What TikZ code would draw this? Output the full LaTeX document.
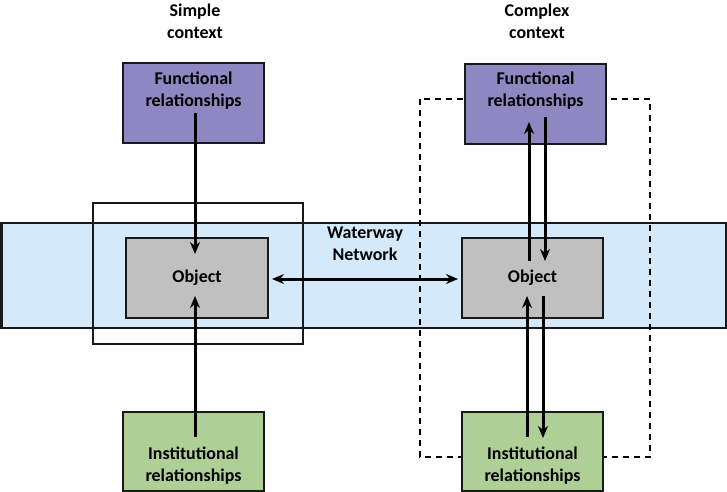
\documentclass[tikz,border=0pt]{standalone}
\usepackage{fontspec}
\setmainfont{Carlito}
\usetikzlibrary{arrows.meta}
\definecolor{funcfill}{RGB}{142,135,194}
\definecolor{instfill}{RGB}{174,207,150}
\definecolor{waterfill}{RGB}{212,234,250}
\definecolor{objfill}{RGB}{192,192,192}
\definecolor{edge}{RGB}{25,25,25}
\tikzset{
  box/.style={draw=edge, line width=2bp, minimum width=141bp, minimum height=80bp, inner sep=0pt, anchor=center},
  funcbox/.style={box, fill=funcfill},
  instbox/.style={box, fill=instfill},
  objbox/.style={box, fill=objfill},
  txt/.style={font=\bfseries\fontsize{18}{22}\selectfont, align=center, inner sep=0pt, text=black},
  conn/.style={line width=3bp, draw=black, -{Stealth[length=12bp,width=10bp]}},
  dconn/.style={line width=3bp, draw=black, {Stealth[length=12bp,width=10bp]}-{Stealth[length=12bp,width=10bp]}},
}
\begin{document}
\begin{tikzpicture}[x=1bp,y=-1bp]
\useasboundingbox (0,0) rectangle (727,492);
% waterway band
\draw[draw=edge, line width=2bp, fill=waterfill] (1.5,223) rectangle (725.5,328);
\node[txt] (ww) at (365,244) {Waterway\\Network};
% simple context frame
\draw[draw=edge, line width=2bp] (93,203) rectangle (303,344);
% complex context dashed frame
\draw[draw=black, line width=2.2bp, dash pattern=on 6bp off 5bp] (420,99) rectangle (650,457);
% titles
\node[txt] (st) at (195,21) {Simple\\context};
\node[txt] (ct) at (537,21) {Complex\\context};
% boxes
\node[funcbox] (fl) at (193.5,103.5) {};
\node[funcbox] (fr) at (535.5,104) {};
\node[objbox, minimum width=142bp] (ol) at (197,278) {};
\node[objbox] (or) at (532.5,278) {};
\node[instbox, minimum height=79bp] (il) at (193.5,451.5) {};
\node[instbox, minimum height=79bp] (ir) at (532.5,451.5) {};
% texts
\node[txt] (flt) at (193.5,91) {Functional\\relationships};
\node[txt] (frt) at (535.5,91) {Functional\\relationships};
\node[txt] (olt) at (197,278) {Object};
\node[txt] (ort) at (532.5,278) {Object};
\node[txt] (ilt) at (193.5,466) {Institutional\\relationships};
\node[txt] (irt) at (532.5,466) {Institutional\\relationships};
% connector endpoints
\coordinate (a1) at (195,113); \coordinate (a2) at (195,254);
\coordinate (b1) at (195,437); \coordinate (b2) at (195,296);
\coordinate (h1) at (272,279); \coordinate (h2) at (458,279);
\coordinate (c1) at (529,261); \coordinate (c2) at (529,122);
\coordinate (d1) at (545,117); \coordinate (d2) at (545,261);
\coordinate (e1) at (527,437); \coordinate (e2) at (527,296);
\coordinate (g1) at (543,296); \coordinate (g2) at (543,438);
% connectors
\draw[conn] (a1) -- (a2);
\draw[conn] (b1) -- (b2);
\draw[dconn] (h1) -- (h2);
\draw[conn] (c1) -- (c2);
\draw[conn] (d1) -- (d2);
\draw[conn] (e1) -- (e2);
\draw[conn] (g1) -- (g2);
\end{tikzpicture}
\end{document}
